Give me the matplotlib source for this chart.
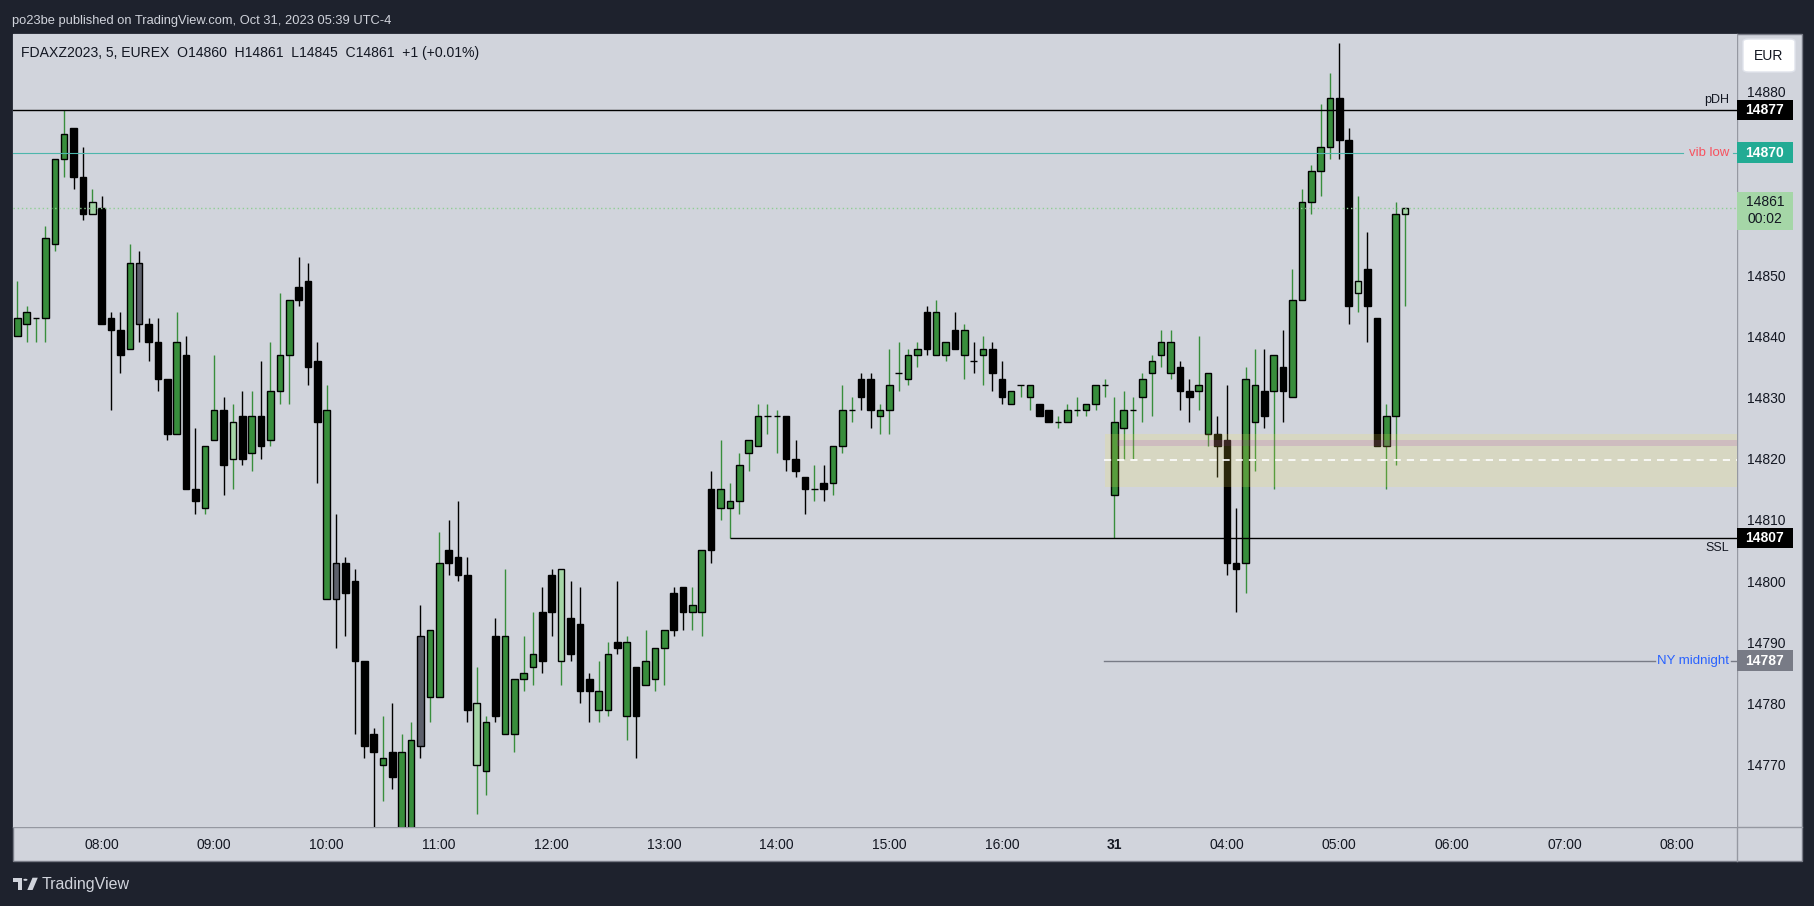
import matplotlib
matplotlib.use("Agg")
import matplotlib.pyplot as plt
import matplotlib.transforms as mtransforms
from matplotlib.patches import Rectangle, FancyBboxPatch, Polygon, Circle
from matplotlib.lines import Line2D

plt.rcParams['font.family'] = ['Liberation Sans', 'DejaVu Sans']

# 5-minute bars, Oct 30 07:15 .. 16:55 then Oct 31 03:00 .. 05:35 (ET)
opens = [14840, 14842, 14843, 14843, 14855, 14869, 14874, 14866, 14860, 14861,
         14843, 14841, 14838, 14852, 14842, 14839, 14833, 14824, 14837, 14815,
         14812, 14823, 14828, 14820, 14827, 14821, 14827, 14823, 14831, 14837,
         14846, 14849, 14836, 14828, 14797, 14803, 14800, 14787, 14775, 14771,
         14768, 14772, 14759, 14773, 14792, 14781, 14803, 14804, 14801, 14780,
         14769, 14778, 14791, 14775, 14784, 14786, 14787, 14795, 14802, 14788,
         14793, 14784, 14782, 14779, 14789, 14790, 14778, 14787, 14784, 14789,
         14792, 14799, 14796, 14795, 14805, 14815, 14812, 14813, 14821, 14822,
         14827, 14827, 14827, 14820, 14817, 14815, 14816, 14816, 14822, 14828,
         14830, 14833, 14828, 14828, 14834, 14833, 14837, 14838, 14844, 14837,
         14838, 14841, 14836, 14837, 14838, 14833, 14829, 14832, 14832, 14829,
         14826, 14826, 14826, 14828, 14828, 14829, 14832, 14814, 14825, 14828,
         14830, 14834, 14837, 14839, 14835, 14830, 14831, 14834, 14824, 14823,
         14802, 14803, 14832, 14827, 14831, 14835, 14830, 14846, 14862, 14867,
         14871, 14879, 14872, 14847, 14851, 14843, 14822, 14827, 14860]
highs = [14849, 14845, 14843, 14858, 14869, 14877, 14874, 14871, 14864, 14863,
         14844, 14844, 14855, 14854, 14843, 14843, 14833, 14844, 14840, 14825,
         14822, 14837, 14830, 14829, 14831, 14831, 14836, 14839, 14847, 14846,
         14853, 14852, 14839, 14832, 14811, 14804, 14802, 14787, 14776, 14778,
         14780, 14775, 14777, 14796, 14792, 14808, 14810, 14813, 14804, 14786,
         14778, 14794, 14802, 14784, 14791, 14795, 14799, 14802, 14802, 14800,
         14799, 14785, 14787, 14790, 14800, 14791, 14786, 14792, 14789, 14792,
         14799, 14799, 14799, 14805, 14818, 14823, 14816, 14821, 14823, 14829,
         14829, 14828, 14827, 14823, 14817, 14819, 14819, 14822, 14832, 14830,
         14834, 14834, 14829, 14838, 14839, 14838, 14839, 14845, 14846, 14839,
         14844, 14842, 14839, 14840, 14839, 14836, 14831, 14832, 14832, 14829,
         14828, 14827, 14829, 14830, 14829, 14832, 14833, 14830, 14831, 14830,
         14834, 14837, 14841, 14841, 14836, 14833, 14840, 14834, 14827, 14832,
         14812, 14835, 14838, 14838, 14837, 14841, 14851, 14864, 14868, 14878,
         14883, 14888, 14874, 14863, 14857, 14843, 14829, 14862, 14861]
lows = [14840, 14839, 14839, 14839, 14854, 14866, 14864, 14859, 14860, 14842,
        14828, 14834, 14838, 14839, 14836, 14831, 14823, 14824, 14815, 14811,
        14811, 14823, 14814, 14815, 14819, 14818, 14820, 14822, 14829, 14829,
        14845, 14832, 14816, 14797, 14789, 14791, 14775, 14771, 14758, 14764,
        14766, 14755, 14756, 14771, 14777, 14781, 14801, 14800, 14777, 14762,
        14765, 14777, 14775, 14772, 14782, 14783, 14785, 14791, 14783, 14787,
        14780, 14777, 14777, 14778, 14788, 14774, 14771, 14783, 14782, 14783,
        14791, 14792, 14792, 14791, 14803, 14810, 14807, 14811, 14818, 14822,
        14824, 14821, 14818, 14817, 14811, 14813, 14813, 14814, 14821, 14826,
        14828, 14825, 14824, 14824, 14831, 14832, 14835, 14837, 14837, 14836,
        14838, 14833, 14834, 14832, 14831, 14829, 14829, 14830, 14828, 14827,
        14826, 14825, 14826, 14827, 14827, 14828, 14830, 14807, 14820, 14820,
        14826, 14827, 14835, 14833, 14828, 14826, 14828, 14822, 14817, 14801,
        14795, 14798, 14818, 14825, 14815, 14826, 14830, 14846, 14860, 14863,
        14869, 14869, 14842, 14844, 14839, 14822, 14815, 14819, 14845]
closes = [14843, 14844, 14843, 14856, 14869, 14873, 14866, 14860, 14862, 14842,
          14841, 14837, 14852, 14842, 14839, 14833, 14824, 14839, 14815, 14813,
          14822, 14828, 14819, 14826, 14820, 14827, 14822, 14831, 14837, 14846,
          14848, 14835, 14826, 14797, 14803, 14798, 14787, 14773, 14772, 14770,
          14772, 14758, 14774, 14791, 14781, 14803, 14805, 14801, 14779, 14770,
          14777, 14791, 14775, 14784, 14785, 14788, 14795, 14801, 14787, 14794,
          14782, 14782, 14779, 14788, 14790, 14778, 14786, 14783, 14789, 14792,
          14798, 14795, 14795, 14805, 14815, 14812, 14813, 14819, 14823, 14827,
          14827, 14827, 14820, 14818, 14815, 14815, 14815, 14822, 14828, 14828,
          14833, 14828, 14827, 14832, 14834, 14837, 14838, 14844, 14837, 14839,
          14841, 14837, 14836, 14838, 14834, 14830, 14831, 14832, 14830, 14827,
          14828, 14826, 14828, 14828, 14829, 14832, 14832, 14826, 14828, 14828,
          14833, 14836, 14839, 14834, 14831, 14831, 14832, 14824, 14822, 14803,
          14803, 14833, 14826, 14831, 14837, 14831, 14846, 14862, 14867, 14871,
          14879, 14872, 14845, 14849, 14845, 14822, 14827, 14860, 14861]
# bar colour class: g = up, b = down, l = light (low volume up), n = neutral grey
kinds = ("ggggggbbl" "bbbgnbbbgb" "bggblbgbgg" "gbbbgnbbbb" "gbggnggbbb"
         "lgbggggbbl" "bbbggbgbgg" "gbbggbggggg" "ggbbbgbggg"
         "bbgglggbgg" "bgbgbbgggb" "bggggggggg" "ggggbbggbb"
         "bggbgbggggg" "bblbbgg" "l")

time_ticks = [9, 21, 33, 45, 57, 69, 81, 93, 105, 117, 129, 141, 153, 165, 177]
time_labels = ["08:00", "09:00", "10:00", "11:00", "12:00", "13:00", "14:00",
               "15:00", "16:00", "31", "04:00", "05:00", "06:00", "07:00", "08:00"]
price_ticks = [14770, 14780, 14790, 14800, 14810, 14820, 14830, 14840, 14850, 14880]

pdh = 14877
vib_low = 14870
last_price = 14861
ssl = 14807
ssl_start = 76
ny_midnight = 14787
zone_low, zone_high = 14815.3, 14824.0
band_low, band_high = 14822.1, 14823.1
zone_mid = 14819.7

W, H = 1815, 906
BG = '#1e222d'
PANEL = '#d1d4dc'
TXT = '#131722'
GREEN = '#388e3c'
LIGHT = '#a5d6a7'
GREY = '#5d606b'

fig = plt.figure(figsize=(W / 100, H / 100), dpi=100)
fig.patch.set_facecolor(BG)


def fx(px):
    return px / W


def fy(py):
    return 1 - py / H


# chart panel
fig.patches.append(Rectangle((fx(13), fy(861)), fx(1802) - fx(13), fy(34) - fy(861),
                             transform=fig.transFigure, facecolor=PANEL,
                             edgecolor='#787b86', lw=1, zorder=-5))

ax = fig.add_axes([fx(13), fy(827), fx(1737) - fx(13), fy(34) - fy(827)])
ax.set_zorder(2)
ax.set_facecolor(PANEL)
for s in ax.spines.values():
    s.set_visible(False)

n = len(opens)
for k in range(n):
    o, h, l, c, kd = opens[k], highs[k], lows[k], closes[k], kinds[k]
    face = {'g': GREEN, 'b': 'black', 'l': LIGHT, 'n': GREY}[kd]
    wick = GREEN if kd in 'gl' else 'black'
    ax.vlines(k, l, h, color=wick, lw=1, zorder=2)
    ax.add_patch(Rectangle((k - 0.35, min(o, c)), 0.7, abs(c - o), facecolor=face,
                           edgecolor='black', lw=1, zorder=3))

ax.set_xlim(-0.46, 183.41)
ax.set_ylim(14759.8, 14889.4)

ax.yaxis.tick_right()
ax.set_yticks(price_ticks)
ax.set_yticklabels([str(p) for p in price_ticks])
ax.tick_params(axis='y', length=0, pad=7.5, labelsize=10, labelcolor=TXT)
ax.set_xticks(time_ticks)
ax.set_xticklabels(time_labels)
ax.tick_params(axis='x', length=0, pad=8, labelsize=10, labelcolor=TXT)
for t in ax.get_xticklabels():
    if t.get_text() == "31":
        t.set_fontweight('bold')

# horizontal levels
tr = mtransforms.blended_transform_factory(fig.transFigure, ax.transData)
ax.axhline(pdh, color='black', lw=1, zorder=5)
ax.add_line(Line2D([fx(13), fx(1683)], [vib_low, vib_low], transform=tr, color='#4db6ac', lw=0.8, zorder=5))
ax.add_line(Line2D([fx(1733), fx(1737)], [vib_low, vib_low], transform=tr, color='#4db6ac', lw=0.8, zorder=5))
ax.axhline(last_price, color='#8fce94', lw=1, ls=(0, (1, 2)), zorder=6)
ax.hlines(ssl, ssl_start, 183.41, color='black', lw=1, zorder=5)
ax.add_line(Line2D([fx(1104), fx(1655)], [ny_midnight, ny_midnight], transform=tr, color='#787b86', lw=1, zorder=5))
ax.add_line(Line2D([fx(1731), fx(1737)], [ny_midnight, ny_midnight], transform=tr, color='#787b86', lw=1, zorder=5))

# zone
ax.add_patch(Rectangle((fx(1105), zone_low), fx(1737) - fx(1105), zone_high - zone_low,
                       transform=tr, facecolor='#fae846', alpha=0.17, lw=0, zorder=7))
ax.add_patch(Rectangle((fx(1117), band_low), fx(1737) - fx(1117), band_high - band_low,
                       transform=tr, facecolor='#9c27b0', alpha=0.15, lw=0, zorder=7))
ax.add_line(Line2D([fx(1104), fx(1737)], [zone_mid, zone_mid], transform=tr, color='white',
                   lw=1.2, ls=(0, (4.3, 3.6)), zorder=8))

# level texts
ax.text(fx(1729), pdh + 0.6, "pDH", transform=tr, ha='right', va='bottom', fontsize=9, color=TXT)
ax.text(fx(1729), vib_low, "vib low", transform=tr, ha='right', va='center', fontsize=9.5, color='#f7525f')
ax.text(fx(1729), ssl - 0.6, "SSL", transform=tr, ha='right', va='top', fontsize=9, color=TXT)
ax.text(fx(1729), ny_midnight, "NY midnight", transform=tr, ha='right', va='center', fontsize=9.5,
        color='#2962ff')

# price axis labels
hbox = 3.35
for price, col in [(pdh, 'black'), (vib_low, '#22ab94'), (ssl, 'black'), (ny_midnight, '#787b86')]:
    ax.add_patch(Rectangle((fx(1737), price - hbox / 2), fx(1793) - fx(1737), hbox, transform=tr,
                           facecolor=col, lw=0, clip_on=False, zorder=10))
    ax.text(fx(1765), price, str(price), transform=tr, ha='center', va='center', fontsize=10,
            fontweight='bold', color='white', clip_on=False, zorder=11)
ax.add_patch(Rectangle((fx(1737), last_price - 3.7), fx(1793) - fx(1737), 6.3, transform=tr,
                       facecolor=LIGHT, lw=0, clip_on=False, zorder=10))
ax.text(fx(1765), last_price + 0.9, str(last_price), transform=tr, ha='center', va='center',
        fontsize=10, color=TXT, clip_on=False, zorder=11)
ax.text(fx(1765), last_price - 1.9, "00:02", transform=tr, ha='center', va='center',
        fontsize=10, color=TXT, clip_on=False, zorder=11)

# separators of the price and time scales
fig.lines.append(Line2D([fx(1737), fx(1737)], [fy(34), fy(861)], transform=fig.transFigure,
                        color='#9598a1', lw=1, zorder=1))
fig.lines.append(Line2D([fx(13), fx(1802)], [fy(827), fy(827)], transform=fig.transFigure,
                        color='#9598a1', lw=1, zorder=1))

# currency button
fig.patches.append(FancyBboxPatch((fx(1743), fy(72)), fx(1795) - fx(1743), fy(39) - fy(72),
                                  transform=fig.transFigure,
                                  boxstyle='round,pad=0,rounding_size=0.003',
                                  facecolor='white', edgecolor='#e0e3eb', lw=1, zorder=3))
fig.text(fx(1769), fy(55.5), "EUR", ha='center', va='center', fontsize=10, color=TXT, zorder=4)

# header texts
fig.text(fx(21), fy(53), "FDAXZ2023, 5, EUREX  O14860  H14861  L14845  C14861  +1 (+0.01%)",
         ha='left', va='center', fontsize=10.1, color=TXT, zorder=4)
fig.text(fx(12), fy(21), "po23be published on TradingView.com, Oct 31, 2023 05:39 UTC-4",
         ha='left', va='center', fontsize=9.3, color='#d1d4dc')

# footer logo
logo = '#d1d4dc'
fig.patches.append(Polygon([(fx(12.7), fy(877.7)), (fx(22.3), fy(877.7)), (fx(22.3), fy(890)),
                            (fx(17.8), fy(890)), (fx(17.8), fy(881.8)), (fx(12.7), fy(881.8))],
                           closed=True, transform=fig.transFigure, facecolor=logo, lw=0))
fig.patches.append(Circle((fx(25.4), fy(879.8)), 2.1 / W, transform=fig.transFigure,
                          facecolor=logo, lw=0))
fig.patches.append(Polygon([(fx(32.5), fy(877.7)), (fx(37.8), fy(877.7)), (fx(32.6), fy(890)),
                            (fx(27.3), fy(890))],
                           closed=True, transform=fig.transFigure, facecolor=logo, lw=0))
fig.text(fx(42), fy(884), "TradingView", ha='left', va='center', fontsize=11.5, color=logo)

fig.savefig("out.png", dpi=100, facecolor=BG)
